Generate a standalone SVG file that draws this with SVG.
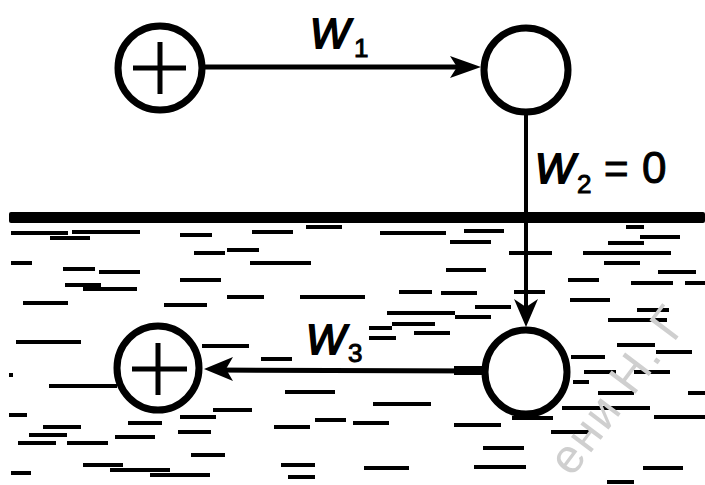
<svg xmlns="http://www.w3.org/2000/svg" width="705" height="485" viewBox="0 0 705 485">
<style>
.node{fill:none;stroke:#000;stroke-width:7}
.plus{stroke:#000;stroke-width:5;fill:none}
.conn{stroke:#000;fill:none}
.head{fill:#000;stroke:none}
.lbl{font-family:"Liberation Sans",Arial,sans-serif;font-style:italic;fill:#000;stroke:#000;stroke-width:1.8}
.num{font-family:"Liberation Sans",Arial,sans-serif;fill:#000;stroke:#000;stroke-width:1}
.water{stroke:#000;stroke-width:4;fill:none}
.wm{font-family:"Liberation Sans",Arial,sans-serif;fill:#cfcfcf}
</style>
<rect width="705" height="485" fill="#fff"/>
<g id="water">
<rect x="9" y="212" width="696" height="11" rx="2" fill="#000"/>
<path class="water" d="M11 233h57 M72 232h68 M50 238h40 M180 235h32 M252 232h41 M306 227h36 M380 233h66 M464 231h40 M450 242h41 M626 227h18 M640 237h40 M608 243h36 M194 253h31 M227 250h32 M509 253h43 M583 253h88 M604 263h36 M11 263h21 M63 269h32 M99 272h41 M250 263h61 M446 270h40 M658 272h38 M180 280h41 M65 285h36 M83 289h54 M568 280h31 M631 283h42 M685 283h20 M23 303h45 M164 305h43 M227 297h37 M300 297h65 M399 292h33 M441 293h36 M514 292h31 M570 300h40 M475 307h36 M387 313h68 M455 317h36 M392 324h43 M414 333h36 M369 328h23 M369 338h27 M608 320h59 M637 310h32 M617 345h38 M16 342h65 M9 375h4 M49 386h68 M202 346h47 M261 359h31 M285 392h50 M373 404h58 M571 357h34 M656 352h36 M584 372h32 M634 372h36 M573 382h16 M598 393h36 M688 393h17 M562 408h88 M654 417h51 M9 415h18 M43 427h38 M29 435h38 M18 443h38 M67 443h41 M115 437h40 M128 423h34 M180 417h36 M213 410h39 M178 432h33 M191 455h34 M274 427h36 M315 420h31 M353 423h36 M454 425h47 M483 448h41 M512 418h41 M551 432h38 M11 473h20 M83 465h40 M110 470h60 M150 475h60 M281 465h34 M288 477h27 M364 468h45 M474 467h52 M643 468h40 M607 482h27"/>
</g>
<g id="connectors">
<line class="conn" x1="205" y1="67" x2="470" y2="67" stroke-width="5"/>
<polygon class="head" points="481,67 450,56 457,67 450,78"/>
<line class="conn" x1="526" y1="112" x2="526" y2="318" stroke-width="4"/>
<polygon class="head" points="526,327 514,299 526,307 538,299"/>
<line class="conn" x1="482" y1="371" x2="215" y2="370" stroke-width="5"/>
<rect x="454" y="366" width="28" height="9" fill="#000"/>
<polygon class="head" points="204,369 233,357 226,369 233,381"/>
</g>
<g id="node-source-top">
<circle class="node" cx="160" cy="68" r="42" stroke-width="6"/>
<path class="plus" d="M133 68H186M160 42V94"/>
</g>
<g id="node-top">
<circle class="node" cx="526" cy="70" r="42"/>
</g>
<g id="node-bottom">
<ellipse class="node" cx="526" cy="372" rx="41" ry="42" stroke-width="7.5"/>
</g>
<g id="node-source-bottom">
<ellipse class="node" cx="158" cy="368" rx="41" ry="42"/>
<path class="plus" d="M132 369H187M158 343V395"/>
</g>
<g id="labels">
<text class="lbl" x="310" y="48" font-size="42">W</text>
<text class="num" x="354" y="57" font-size="26">1</text>
<text class="lbl" x="535" y="183" font-size="42">W</text>
<text class="num" x="577" y="193" font-size="26">2</text>
<text class="num" x="604" y="183" font-size="42">=</text>
<text class="num" x="642" y="183" font-size="44">0</text>
<text class="lbl" x="306" y="354" font-size="42">W</text>
<text class="num" x="348" y="362" font-size="26">3</text>
</g>
<text class="wm" x="0" y="0" font-size="48" letter-spacing="2" transform="translate(572,478) rotate(-53)">ени Н. Г</text>
</svg>
